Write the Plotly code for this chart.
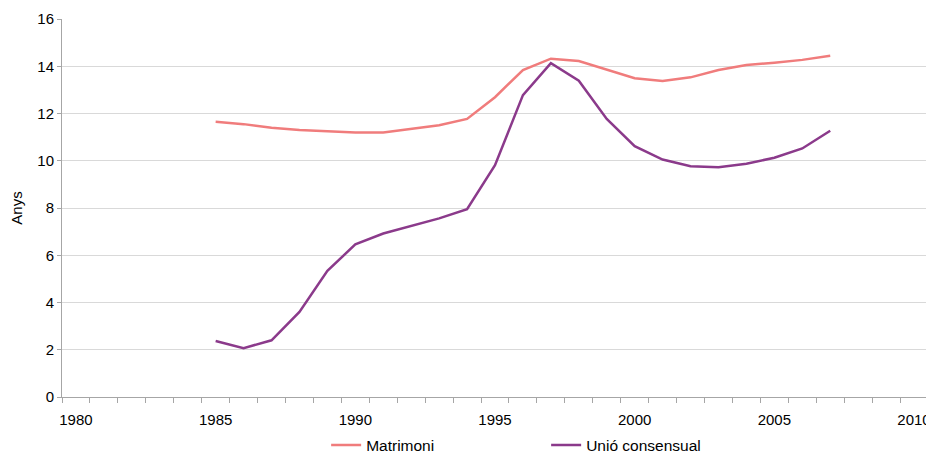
import plotly.graph_objects as go

years = list(range(1985, 2008))
matrimoni = [11.65, 11.55, 11.40, 11.30, 11.25, 11.20, 11.20, 11.34, 11.50, 11.77,
             12.69, 13.84, 14.32, 14.22, 13.85, 13.49, 13.38, 13.53, 13.84, 14.05,
             14.15, 14.27, 14.44]
unio_consensual = [2.37, 2.07, 2.40, 3.60, 5.34, 6.46, 6.92, 7.23, 7.56, 7.95,
                   9.81, 12.78, 14.13, 13.39, 11.77, 10.62, 10.05, 9.77, 9.72, 9.87,
                   10.13, 10.52, 11.27]
x_labels = [1980, 1985, 1990, 1995, 2000, 2005, 2010]
y_ticks = list(range(0, 17, 2))

FONT = 'Liberation Sans, Arial, sans-serif'

fig = go.Figure()
fig.add_trace(go.Scatter(x=years, y=matrimoni, mode='lines', name='Matrimoni',
                         line={'color': '#F07C7C', 'width': 2.5}))
fig.add_trace(go.Scatter(x=years, y=unio_consensual, mode='lines', name='Unió consensual',
                         line={'color': '#8B3A8B', 'width': 2.5}))

# page body keeps its 8px margin, so the figure is sized to fit inside it
fig.update_layout(
    width=926,
    height=447,
    margin={'l': 54, 'r': 6, 't': 11, 'b': 58, 'autoexpand': False},
    paper_bgcolor='white',
    plot_bgcolor='white',
    font={'family': FONT, 'size': 15, 'color': 'black'},
    showlegend=True,
    legend={
        'orientation': 'h',
        'x': 0.305,
        'xanchor': 'left',
        'y': -0.128,
        'yanchor': 'middle',
        'font': {'size': 15.5},
        'entrywidth': 175,
    },
)

fig.update_xaxes(
    range=[1979.5, 2010.5],
    tickvals=x_labels,
    ticks='',
    ticklabelstandoff=9,
    automargin=False,
    showgrid=False,
    zeroline=False,
    showline=True,
    linecolor='#A6A6A6',
    linewidth=1,
    minor={'tick0': 1979.5, 'dtick': 1, 'ticks': 'outside', 'ticklen': 5,
           'tickcolor': '#A6A6A6', 'showgrid': False},
)
fig.update_yaxes(
    range=[0, 16],
    tickvals=y_ticks,
    ticks='outside',
    ticklen=4,
    tickcolor='#A6A6A6',
    automargin=False,
    showgrid=True,
    gridcolor='#D9D9D9',
    gridwidth=1,
    zeroline=False,
    showline=True,
    linecolor='#A6A6A6',
    linewidth=1,
    title={'text': 'Anys', 'standoff': 14, 'font': {'size': 15}},
)

fig.write_html('out.html')
